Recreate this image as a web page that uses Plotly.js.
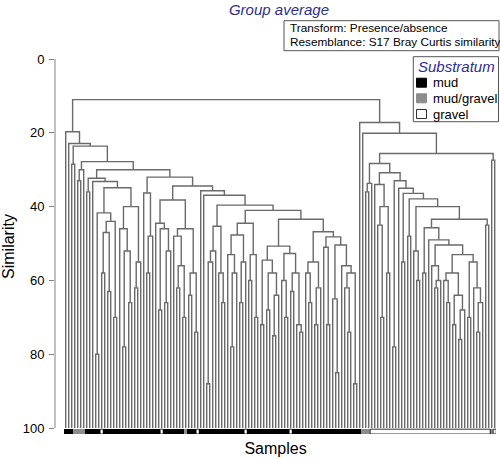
<!DOCTYPE html>
<html>
<head>
<meta charset="utf-8">
<script src="https://cdn.plot.ly/plotly-3.0.1.min.js"></script>
<style>html,body{margin:0;padding:0;background:#fff;}#chart{width:500px;height:459px;}</style>
</head>
<body>
<div id="chart"></div>
<script>
// Similarity (%) at which each pair of neighbouring samples first join (leaf order left to right)
const gapSimilarity = [
  19.7, 22.9, 28.5, 23.6, 33, 30, 27.8, 36, 32.3, 33.2,
  80, 41.7, 58, 47, 63, 44, 70, 34.9, 46, 78,
  52, 66, 40, 62, 55, 30, 36.3, 58, 48, 32,
  44.5, 68, 46, 66, 52, 38.2, 48, 62, 56, 70,
  46, 64, 58, 74, 34.4, 35.7, 36.9, 88, 55, 52,
  45.3, 58, 66, 39.6, 53, 78, 58, 47.7, 66, 55,
  44.5, 60, 53, 70, 41, 72, 54.5, 68, 58, 75,
  64, 50.7, 60, 70, 52.7, 63, 58, 72, 74, 43.4,
  58, 66, 55, 72, 62, 46.8, 51, 72, 48.2, 65,
  85, 50.4, 56, 62, 74, 58, 88, 11,
  17.2, 20.1, 36, 33.7, 28.3, 34, 45, 70, 40, 58,
  30.8, 78, 33, 35, 55, 36.4, 48, 37.9, 52, 60,
  40, 58, 45.7, 49, 56, 62, 60, 50.4, 60, 66,
  58, 72, 64, 76, 68, 53, 70, 55, 62, 74,
  66, 43.4, 45, 25.6, 27.4
];
// Substratum class of each sample (index into substratumNames)
const substratum = [
  0,0,0,1,1,1,1,0,0,0,0,0,2,0,0,0,0,0,0,0,
  0,0,0,0,0,0,0,0,0,0,0,0,2,0,0,0,0,0,0,0,
  1,0,0,0,2,0,0,0,0,0,0,0,0,0,0,0,0,0,0,0,
  2,0,0,0,0,0,0,0,0,0,0,0,0,0,0,2,0,0,0,0,
  0,0,0,0,0,0,0,0,0,0,0,0,0,0,0,0,0,0,0,1,
  1,1,2,2,2,2,2,2,2,2,2,2,2,2,2,2,2,2,2,2,
  2,2,2,2,2,2,2,2,2,2,2,2,2,2,2,2,2,2,2,2,
  2,2,1,2
];
const substratumNames = ['mud', 'mud/gravel', 'gravel'];
const substratumColors = ['#000000', '#8c8c8c', '#ffffff'];
const yTicks = [0, 20, 40, 60, 80, 100];

const nLeaves = substratum.length;
// build dendrogram (Cartesian tree on neighbour join levels)
function build(lo, hi) {
  if (lo === hi) return {x: lo, h: 100};
  let k = lo;
  for (let i = lo; i < hi; i++) if (gapSimilarity[i] < gapSimilarity[k]) k = i;
  const L = build(lo, k), R = build(k + 1, hi);
  return {x: (L.x + R.x) / 2, h: gapSimilarity[k], L: L, R: R};
}
const root = build(0, nLeaves - 1);
const lx = [], ly = [];
(function walk(n) {
  if (!n.L) return;
  lx.push(n.L.x, n.L.x, n.R.x, n.R.x, null);
  ly.push(n.L.h, n.h, n.h, n.R.h, null);
  walk(n.L); walk(n.R);
})(root);

const leafIdx = substratum.map((_, i) => i);
// outlines of gravel runs
const ox = [], oy = [];
const y0 = 100.3, y1 = 101.6;
let i = 0;
while (i < nLeaves) {
  if (substratum[i] === 2) {
    let j = i;
    while (j + 1 < nLeaves && substratum[j + 1] === 2) j++;
    ox.push(i - 0.5, j + 0.5, j + 0.5, i - 0.5, i - 0.5, null);
    oy.push(y0, y0, y1, y1, y0, null);
    i = j + 1;
  } else i++;
}

const traces = [
  {type: 'scatter', mode: 'lines', x: lx, y: ly, line: {color: '#6a6a6a', width: 1.4}, hoverinfo: 'skip', showlegend: false},
  {type: 'bar', x: leafIdx, y: leafIdx.map(() => y1 - y0), base: y0, width: 1,
   marker: {color: substratum.map(s => substratumColors[s]), line: {width: 0}}, showlegend: false, hoverinfo: 'skip'},
  {type: 'scatter', mode: 'lines', x: ox, y: oy, line: {color: '#000', width: 0.8}, hoverinfo: 'skip', showlegend: false}
];

// pixel helpers for paper coords
const PL = 55, PR = 496, PT = 59, PB = 433.9;
const px = v => (v - PL) / (PR - PL);
const py = v => (PB - v) / (PB - PT);

const shapes = [
  {type: 'line', xref: 'paper', yref: 'y', x0: 0, x1: 0, y0: 0, y1: 100, line: {color: '#808080', width: 1}},
  {type: 'rect', xref: 'paper', yref: 'paper', x0: px(284), x1: px(499), y0: py(20.7), y1: py(50.7), line: {color: '#555', width: 1}},
  {type: 'rect', xref: 'paper', yref: 'paper', x0: px(413.3), x1: px(498.5), y0: py(56.7), y1: py(121.7), line: {color: '#555', width: 1}}
];
const annotations = [
  {xref: 'paper', yref: 'paper', x: px(287.5), y: py(28.3), xanchor: 'left', yanchor: 'middle', showarrow: false,
   text: 'Transform: Presence/absence', font: {family: 'Liberation Sans, Arial', size: 11.8, color: '#000'}},
  {xref: 'paper', yref: 'paper', x: px(287.5), y: py(42.5), xanchor: 'left', yanchor: 'middle', showarrow: false,
   text: 'Resemblance: S17 Bray Curtis similarity', font: {family: 'Liberation Sans, Arial', size: 11.8, color: '#000'}},
  {xref: 'paper', yref: 'paper', x: px(456), y: py(66), xanchor: 'center', yanchor: 'middle', showarrow: false,
   text: '<i>Substratum</i>', font: {family: 'Liberation Sans, Arial', size: 15, color: '#2e2e8f'}}
];
const legY = [82.7, 98.3, 114];
substratumNames.forEach((name, k) => {
  shapes.push({type: 'rect', xref: 'paper', yref: 'paper', x0: px(416.5), x1: px(426.5), y0: py(legY[k] - 4.5), y1: py(legY[k] + 4.5),
    fillcolor: substratumColors[k], line: {color: k === 2 ? '#333' : substratumColors[k], width: 1}});
  annotations.push({xref: 'paper', yref: 'paper', x: px(430.5), y: py(legY[k]), xanchor: 'left', yanchor: 'middle', showarrow: false,
    text: name, font: {family: 'Liberation Sans, Arial', size: 13, color: '#000'}});
});

const layout = {
  width: 500, height: 459,
  margin: {l: PL, r: 500 - PR, t: PT, b: 459 - PB},
  paper_bgcolor: '#fff', plot_bgcolor: '#fff',
  font: {family: 'Liberation Sans, Arial', color: '#000'},
  title: {text: '<i>Group average</i>', x: 279 / 500, xanchor: 'center', y: 1 - 10 / 459, yanchor: 'middle', xref: 'container', yref: 'container',
          font: {family: 'Liberation Sans, Arial', size: 15, color: '#2e2e8f'}},
  bargap: 0,
  xaxis: {range: [-3.57, 143.43], showgrid: false, zeroline: false, showline: false, showticklabels: false, ticks: '',
          title: {text: 'Samples', font: {size: 16, color: '#000'}, standoff: 8}, fixedrange: true},
  yaxis: {range: [101.6, 0], autorange: false, showgrid: false, zeroline: false, showline: false,
          tickvals: yTicks, ticktext: yTicks.map(String), ticks: 'outside', ticklen: 5, tickcolor: '#808080', tickwidth: 1,
          ticklabelstandoff: 2,
          tickfont: {size: 13, color: '#000'},
          title: {text: 'Similarity', font: {size: 16, color: '#000'}, standoff: 4}, fixedrange: true},
  shapes: shapes, annotations: annotations, showlegend: false
};
Plotly.newPlot('chart', traces, layout, {staticPlot: true, displayModeBar: false});
</script>
</body>
</html>
